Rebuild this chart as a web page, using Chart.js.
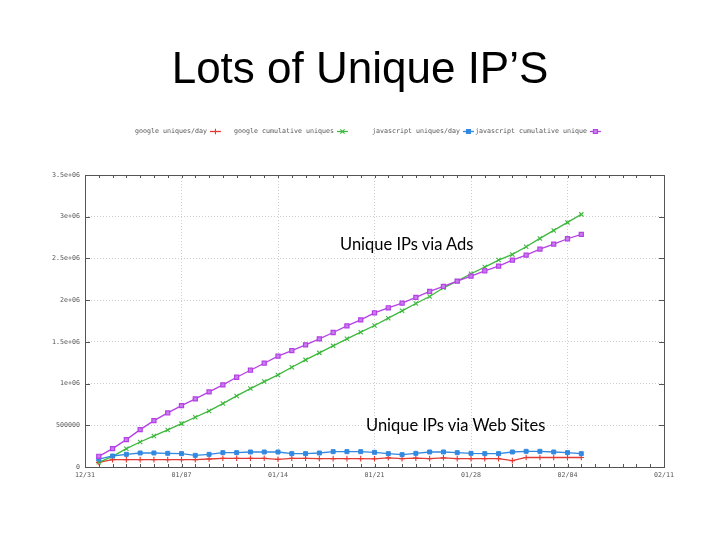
<!DOCTYPE html>
<html>
<head>
<meta charset="utf-8">
<script src="https://cdn.jsdelivr.net/npm/chart.js@4/dist/chart.umd.min.js"></script>
<style>
  html, body { margin: 0; padding: 0; background: #fff; }
  #wrap { position: relative; width: 720px; height: 540px; overflow: hidden; }
  #c { position: absolute; left: 0; top: 0; }
  .title { position: absolute; left: 0; top: 46px; width: 720px; text-align: center;
           font-family: "Liberation Sans", Arial, sans-serif; font-size: 44px; line-height: 1; color: #000; }
  .note { position: absolute; font-family: Lato, "Open Sans", sans-serif; font-size: 16.5px; line-height: 20px; color: #000; white-space: nowrap; }
</style>
</head>
<body>
<div id="wrap">
  <canvas id="c" width="720" height="540"></canvas>
  <div class="title">Lots of Unique IP’S</div>
  <div class="note" style="left:340px; top:234px;">Unique IPs via Ads</div>
  <div class="note" style="left:366px; top:415px;">Unique IPs via Web Sites</div>
</div>
<script>
// ---- data ----
const dates = ['01/01','01/02','01/03','01/04','01/05','01/06','01/07','01/08','01/09','01/10',
  '01/11','01/12','01/13','01/14','01/15','01/16','01/17','01/18','01/19','01/20',
  '01/21','01/22','01/23','01/24','01/25','01/26','01/27','01/28','01/29','01/30',
  '01/31','02/01','02/02','02/03','02/04','02/05'];
const xTickLabels = ['12/31','01/07','01/14','01/21','01/28','02/04','02/11'];
const yTickLabels = ['0','500000','1e+06','1.5e+06','2e+06','2.5e+06','3e+06','3.5e+06'];
const seriesNames = ['google uniques/day','google cumulative uniques','javascript uniques/day','javascript cumulative unique'];

const googleDaily = [56000,88000,88000,88000,88000,88000,88000,88000,96000,104000,
  104000,104000,104000,92000,104000,104000,100000,100000,100000,100000,
  98000,110000,100000,106000,100000,110000,100000,100000,100000,100000,
  76000,114000,114000,114000,114000,114000];
const googleCumulative = [56000,128000,220000,300000,372000,444000,520000,596000,672000,760000,
  852000,940000,1024000,1104000,1196000,1284000,1368000,1452000,1536000,1616000,
  1696000,1784000,1872000,1960000,2044000,2148000,2228000,2316000,2396000,2480000,
  2548000,2640000,2740000,2836000,2932000,3028000];
const jsDaily = [95000,132000,152000,168000,168000,164000,160000,140000,152000,172000,
  172000,180000,180000,180000,160000,160000,168000,184000,184000,184000,
  176000,160000,148000,164000,180000,180000,172000,164000,160000,160000,
  180000,188000,188000,180000,172000,160000];
const jsCumulative = [128000,220000,328000,448000,556000,648000,736000,816000,900000,984000,
  1076000,1160000,1244000,1328000,1396000,1464000,1536000,1612000,1692000,1764000,
  1848000,1908000,1964000,2032000,2104000,2164000,2228000,2288000,2352000,2408000,
  2480000,2540000,2612000,2672000,2736000,2788000];

// day index on the axis: 12/31 = 0, so dates[i] sits at i + 1
const toPoints = arr => arr.map((v, i) => ({ x: i + 1, y: v }));
const axisDays = Array.from({ length: 43 }, (_, i) => i);

const tickFont = { family: '"DejaVu Sans Mono", monospace', size: 6.65 };

const frameAndLegend = {
  id: 'frameAndLegend',
  beforeDatasetsDraw(chart) {
    const { ctx, chartArea: a, scales } = chart;
    ctx.save();
    ctx.strokeStyle = '#555';
    ctx.lineWidth = 1;
    ctx.beginPath();
    scales.y.ticks.forEach(t => {
      const y = Math.round(scales.y.getPixelForValue(t.value)) + 0.5;
      ctx.moveTo(a.left, y); ctx.lineTo(a.left + 5, y);
      ctx.moveTo(a.right, y); ctx.lineTo(a.right - 5, y);
    });
    scales.x.ticks.forEach(t => {
      const x = Math.round(scales.x.getPixelForValue(t.value)) + 0.5;
      const len = 3;
      ctx.moveTo(x, a.bottom); ctx.lineTo(x, a.bottom - len);
      ctx.moveTo(x, a.top); ctx.lineTo(x, a.top + len);
    });
    ctx.stroke();
    ctx.strokeRect(Math.round(a.left) + 0.5, Math.round(a.top) + 0.5,
                   Math.round(a.right - a.left), Math.round(a.bottom - a.top));
    ctx.restore();
  },
  afterDraw(chart) {
    const { ctx } = chart;
    const starts = [135, 234, 372, 475];
    const yMid = 131;
    ctx.save();
    ctx.font = `${tickFont.size}px ${tickFont.family}`;
    ctx.textBaseline = 'middle';
    ctx.textAlign = 'left';
    chart.data.datasets.forEach((ds, i) => {
      const x0 = starts[i];
      ctx.fillStyle = '#555';
      ctx.fillText(ds.label, x0, yMid);
      const w = ctx.measureText(ds.label).width;
      const l = x0 + w + 3, r = l + 11;
      ctx.strokeStyle = ds.borderColor;
      ctx.lineWidth = 1.3;
      ctx.beginPath(); ctx.moveTo(l, yMid + 0.5); ctx.lineTo(r, yMid + 0.5); ctx.stroke();
      ctx.fillStyle = ds.pointBackgroundColor;
      ctx.strokeStyle = ds.borderColor;
      ctx.lineWidth = 1.1;
      Chart.helpers.drawPoint(ctx, { pointStyle: ds.pointStyle, radius: ds.pointRadius, rotation: 0, borderWidth: 1.1 }, (l + r) / 2, yMid + 0.5);
    });
    ctx.restore();
  }
};

new Chart(document.getElementById('c'), {
  type: 'line',
  data: {
    datasets: [
      { label: seriesNames[0], data: toPoints(googleDaily), borderColor: '#e23a32', backgroundColor: '#e23a32',
        pointBackgroundColor: '#e23a32', pointStyle: 'cross', pointRadius: 2.8, borderWidth: 1.3, pointBorderWidth: 1.1, order: 4 },
      { label: seriesNames[1], data: toPoints(googleCumulative), borderColor: '#3cb83c', backgroundColor: '#3cb83c',
        pointBackgroundColor: '#3cb83c', pointStyle: 'crossRot', pointRadius: 3, borderWidth: 1.3, pointBorderWidth: 1.1, order: 3 },
      { label: seriesNames[2], data: toPoints(jsDaily), borderColor: '#3388e0', backgroundColor: '#3388e0',
        pointBackgroundColor: '#3388e0', pointStyle: 'rect', pointRadius: 2.8, borderWidth: 1.3, pointBorderWidth: 1, order: 2 },
      { label: seriesNames[3], data: toPoints(jsCumulative), borderColor: '#b540e6', backgroundColor: '#c97ceb',
        pointBackgroundColor: '#c97ceb', pointStyle: 'rect', pointRadius: 2.9, borderWidth: 1.3, pointBorderWidth: 1.2, order: 1 }
    ]
  },
  options: {
    responsive: false,
    animation: false,
    devicePixelRatio: 1,
    layout: { padding: { top: 175, right: 56, left: 0, bottom: 0 } },
    plugins: { legend: { display: false }, tooltip: { enabled: false }, title: { display: false } },
    elements: { line: { tension: 0 } },
    scales: {
      x: {
        type: 'linear', min: 0, max: 42,
        afterBuildTicks: s => { s.ticks = axisDays.map(v => ({ value: v })); },
        afterFit: s => { s.height = 73; },
        ticks: {
          autoSkip: false, maxRotation: 0, padding: 4, color: '#555', font: tickFont,
          callback: v => (v % 7 === 0 ? xTickLabels[v / 7] : '')
        },
        grid: {
          drawTicks: false,
          color: c => (c.tick && c.tick.value % 7 === 0 && c.tick.value > 0 && c.tick.value < 42) ? '#cfcfcf' : 'rgba(0,0,0,0)',
          lineWidth: 1
        },
        border: { display: false, dash: [1, 2] }
      },
      y: {
        min: 0, max: 3500000,
        afterFit: s => { s.width = 85; },
        ticks: {
          stepSize: 500000, padding: 5, color: '#555', font: tickFont,
          callback: (v, i) => yTickLabels[i]
        },
        grid: {
          drawTicks: false,
          color: c => (c.tick && c.tick.value > 0 && c.tick.value < 3500000) ? '#cfcfcf' : 'rgba(0,0,0,0)',
          lineWidth: 1
        },
        border: { display: false, dash: [1, 2] }
      }
    }
  },
  plugins: [frameAndLegend]
});
</script>
</body>
</html>
